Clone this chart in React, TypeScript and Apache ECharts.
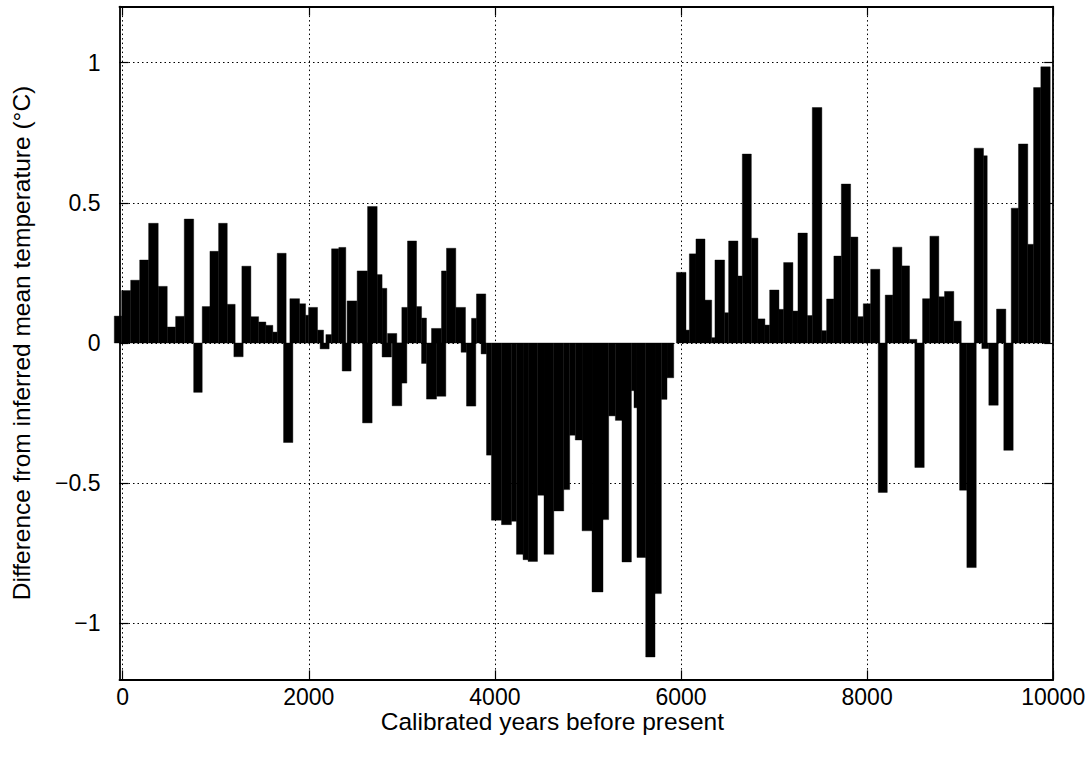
import { useEffect, useRef } from 'react';
import * as echarts from 'echarts';

// Calibrated-year bins (start, end) and anomaly (°C) for each bar
const binStart = [
  -90, -11, 86, 183, 279, 382, 479, 569, 662, 763, 855, 938, 1031, 1124, 1195, 1281, 1378, 1461, 1539, 1614,
  1661, 1729, 1797, 1901, 1966, 1998, 2094, 2122, 2184, 2245, 2323, 2359, 2412, 2520, 2578, 2632, 2735, 2788, 2788, 2846,
  2896, 2946, 3000, 3061, 3158, 3212, 3212, 3265, 3319, 3373, 3426, 3480, 3580, 3637, 3695, 3749, 3802, 3852, 3910, 3963,
  4071, 4178, 4232, 4303, 4357, 4458, 4528, 4633, 4740, 4804, 4864, 4937, 5044, 5162, 5223, 5295, 5366, 5467, 5495, 5527,
  5621, 5721, 5789, 5850, 5951, 6054, 6090, 6161, 6258, 6330, 6365, 6469, 6512, 6612, 6659, 6756, 6827, 6902, 6953, 7053,
  7103, 7203, 7257, 7358, 7411, 7514, 7565, 7643, 7723, 7823, 7901, 7959, 8038, 8120, 8195, 8277, 8374, 8456, 8513, 8596,
  8675, 8771, 8832, 8932, 8994, 9072, 9151, 9251, 9233, 9308, 9391, 9469, 9549, 9627, 9727, 9789, 9867,
];
const binEnd = [
  -11, 86, 183, 279, 382, 479, 569, 662, 763, 855, 938, 1031, 1124, 1209, 1295, 1378, 1461, 1539, 1614, 1661,
  1757, 1829, 1901, 1966, 1998, 2094, 2159, 2219, 2245, 2323, 2398, 2455, 2517, 2632, 2681, 2735, 2788, 2839, 2889, 2946,
  3000, 3054, 3061, 3158, 3212, 3265, 3265, 3373, 3426, 3473, 3480, 3580, 3684, 3695, 3795, 3802, 3902, 3910, 3963, 4071,
  4178, 4232, 4303, 4357, 4458, 4528, 4633, 4740, 4804, 4864, 4937, 5044, 5162, 5223, 5295, 5366, 5467, 5495, 5527, 5621,
  5721, 5789, 5850, 5922, 6054, 6090, 6161, 6258, 6330, 6365, 6469, 6512, 6612, 6659, 6756, 6827, 6902, 6953, 7053, 7103,
  7203, 7257, 7358, 7411, 7514, 7565, 7643, 7723, 7823, 7901, 7959, 8038, 8137, 8217, 8277, 8374, 8456, 8535, 8614, 8675,
  8771, 8832, 8932, 9012, 9072, 9173, 9251, 9291, 9308, 9409, 9491, 9570, 9627, 9727, 9789, 9867, 9968,
];
const anomaly = [
  0.096, 0.187, 0.224, 0.296, 0.427, 0.202, 0.057, 0.095, 0.442, -0.176, 0.13, 0.327, 0.427, 0.138, -0.049, 0.274, 0.094, 0.075, 0.063, 0.039,
  0.32, -0.355, 0.158, 0.14, 0.099, 0.127, 0.046, -0.021, 0.03, 0.336, 0.341, -0.1, 0.15, 0.257, -0.285, 0.487, 0.244, 0.195, -0.05, 0.034,
  -0.224, -0.143, 0.127, 0.364, 0.13, 0.089, -0.073, -0.2, 0.052, -0.19, 0.257, 0.338, 0.127, -0.033, -0.225, 0.088, 0.175, -0.039, -0.4, -0.632,
  -0.648, -0.636, -0.754, -0.773, -0.779, -0.543, -0.754, -0.599, -0.523, -0.329, -0.346, -0.67, -0.888, -0.63, -0.26, -0.276, -0.781, -0.17, -0.231, -0.765,
  -1.12, -0.894, -0.201, -0.124, 0.252, 0.046, 0.318, 0.371, 0.153, 0.019, 0.296, 0.108, 0.364, 0.239, 0.674, 0.374, 0.086, 0.064, 0.189, 0.12,
  0.287, 0.114, 0.392, 0.098, 0.84, 0.044, 0.157, 0.31, 0.567, 0.378, 0.094, 0.14, 0.263, -0.533, 0.171, 0.342, 0.275, 0.013, -0.444, 0.158,
  0.381, 0.165, 0.184, 0.078, -0.525, -0.801, 0.695, 0.668, -0.02, -0.222, 0.121, -0.383, 0.481, 0.71, 0.352, 0.911, 0.985,
];

const xTicks = [0, 2000, 4000, 6000, 8000, 10000];
const yTicks = [-1, -0.5, 0, 0.5, 1];
const xTitle = 'Calibrated years before present';
const yTitle = 'Difference from inferred mean temperature (°C)';

const FONT = "'Liberation Sans', Arial, Helvetica, sans-serif";
const TICK_FS = 23;
const TITLE_FS = 24.5;

export default function App() {
  const ref = useRef<HTMLDivElement>(null);
  useEffect(() => {
    document.body.style.margin = '0';
    const chart = echarts.init(ref.current!, null, { renderer: 'svg' });
    const data = anomaly.map((v, i) => [binStart[i], binEnd[i], v]);
    const dotted = { color: '#000', width: 1, type: [1.5, 3] as any };
    const frame = { show: true, onZero: false, lineStyle: { color: '#000', width: 1.8 } };
    const tickStyle = { lineStyle: { color: '#000', width: 1.2 } };
    const fmt = (v: number) => (v < 0 ? '\u2212' : '') + String(Math.abs(v));
    chart.setOption({
      animation: false,
      grid: { left: 119.5, right: 31.8, top: 6.6, bottom: 78.6, outerBoundsMode: 'none', containLabel: false },
      xAxis: [
        {
          type: 'value', min: -34, max: 10000, position: 'bottom',
          axisLine: frame,
          axisTick: { show: true, inside: true, length: 9, customValues: xTicks, ...tickStyle },
          axisLabel: {
            customValues: xTicks, fontFamily: FONT, fontSize: TICK_FS, lineHeight: 20,
            color: '#000', margin: 8, formatter: fmt,
          },
          splitLine: { show: true, lineStyle: dotted },
          name: xTitle, nameLocation: 'middle', nameGap: 32.5, nameMoveOverlap: false,
          nameTextStyle: { fontFamily: FONT, fontSize: TITLE_FS, lineHeight: 20, color: '#000', padding: [0, 68, 0, 0] },
        },
        {
          type: 'value', min: -34, max: 10000, position: 'top',
          axisLine: frame,
          axisTick: { show: true, inside: true, length: 9, customValues: xTicks, ...tickStyle },
          axisLabel: { show: false },
          splitLine: { show: false },
        },
      ],
      yAxis: [
        {
          type: 'value', min: -1.2, max: 1.2, position: 'left',
          axisLine: frame,
          axisTick: { show: true, inside: true, length: 9, customValues: yTicks, ...tickStyle },
          axisLabel: {
            customValues: yTicks, fontFamily: FONT, fontSize: TICK_FS, color: '#000', margin: 19,
            formatter: fmt,
          },
          splitLine: { show: true, lineStyle: dotted },
          name: yTitle, nameLocation: 'middle', nameGap: 86, nameRotate: 90, nameMoveOverlap: false,
          nameTextStyle: { fontFamily: FONT, fontSize: TITLE_FS, color: '#000' },
        },
        {
          type: 'value', min: -1.2, max: 1.2, position: 'right',
          axisLine: frame,
          axisTick: { show: true, inside: true, length: 9, customValues: yTicks, ...tickStyle },
          axisLabel: { show: false },
          splitLine: { show: false },
        },
      ],
      series: [
        {
          type: 'custom',
          clip: false,
          xAxisIndex: 0,
          yAxisIndex: 0,
          encode: { x: [0, 1], y: 2 },
          data,
          renderItem: (params: any, api: any) => {
            const s = api.value(0);
            const e = api.value(1);
            const v = api.value(2);
            const p0 = api.coord([s, 0]);
            const p1 = api.coord([e, v]);
            return {
              type: 'rect',
              shape: {
                x: p0[0],
                y: Math.min(p0[1], p1[1]),
                width: p1[0] - p0[0],
                height: Math.abs(p1[1] - p0[1]),
              },
              style: { fill: '#000', stroke: '#000', lineWidth: 0.4 },
            };
          },
        },
      ],
    });
    return () => chart.dispose();
  }, []);
  return <div ref={ref} style={{ width: 1085, height: 758 }} />;
}
